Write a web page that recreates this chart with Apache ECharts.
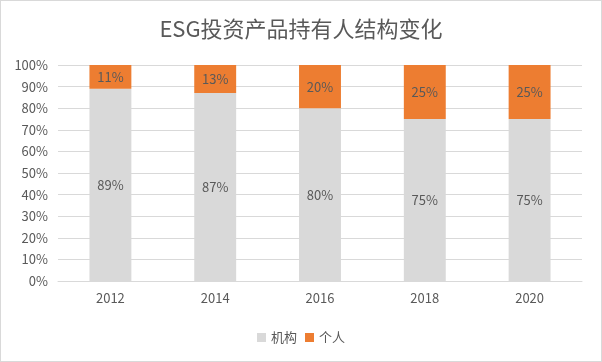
<!DOCTYPE html>
<html><head><meta charset="utf-8">
<script src="https://cdn.jsdelivr.net/npm/echarts@6/dist/echarts.min.js"></script>
<style>html,body{margin:0;padding:0;background:#fff;}#c{width:600px;height:360px;border:1px solid #d9d9d9;}</style>
</head><body><div id="c"></div>
<script>
const categories = ['2012','2014','2016','2018','2020'];
const institution = [89,87,80,75,75];
const individual = [11,13,20,25,25];
const seriesNames = ['机构','个人'];
const font = '"Microsoft YaHei","Noto Sans CJK SC",sans-serif';
const chart = echarts.init(document.getElementById('c'));
chart.setOption({
  animation:false,
  title:{text:'ESG投资产品持有人结构变化',left:'center',top:12,textStyle:{fontFamily:font,fontSize:22,fontWeight:'normal',color:'#595959'}},
  legend:{bottom:12,left:'center',itemWidth:9,itemHeight:9,itemGap:8,icon:'rect',textStyle:{fontFamily:font,fontSize:13,color:'#595959'},data:seriesNames},
  grid:{left:57,right:19,top:64,bottom:80},
  xAxis:{type:'category',data:categories,axisLine:{lineStyle:{color:'#d9d9d9'}},axisTick:{show:false},axisLabel:{fontFamily:font,fontSize:13,color:'#595959',margin:11}},
  yAxis:{type:'value',min:0,max:100,interval:10,axisLabel:{formatter:'{value}%',fontFamily:font,fontSize:13,color:'#595959',margin:10},splitLine:{lineStyle:{color:'#d9d9d9'}},axisLine:{show:false},axisTick:{show:false}},
  series:[
    {name:seriesNames[0],type:'bar',stack:'a',barWidth:'40%',data:institution,itemStyle:{color:'#d9d9d9'},label:{show:true,position:'inside',formatter:'{c}%',fontFamily:font,fontSize:13,color:'#595959'}},
    {name:seriesNames[1],type:'bar',stack:'a',barWidth:'40%',data:individual,itemStyle:{color:'#ed7d31'},label:{show:true,position:'inside',formatter:'{c}%',fontFamily:font,fontSize:13,color:'#595959'}}
  ]
});
</script></body></html>
